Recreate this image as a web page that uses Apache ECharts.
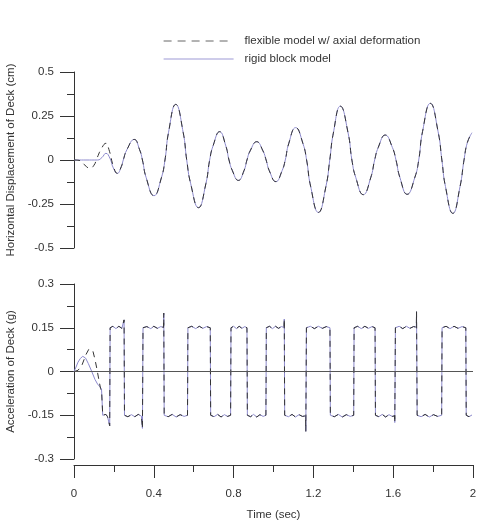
<!DOCTYPE html>
<html>
<head>
<meta charset="utf-8">
<script src="https://cdn.jsdelivr.net/npm/echarts@6/dist/echarts.min.js"></script>
<style>
  html, body { margin: 0; padding: 0; background: #fff; }
  #chart { width: 478px; height: 523px; }
</style>
</head>
<body>
<div id="chart"></div>
<script>
// time (sec), value pairs
const dispRigidStart = [[0, 0], [0.06, 0], [0.118, 0], [0.14, 0.014], [0.16, 0.038], [0.18, 0.01], [0.197, -0.045]];
const dispFlexStart = [[0, 0], [0.03, -0.003], [0.055, -0.03], [0.08, -0.047], [0.1, -0.03], [0.115, 0.01],
    [0.14, 0.07], [0.16, 0.095], [0.175, 0.06], [0.2, -0.045]];
const dispShared = [
    [0.217, -0.076], [0.237, -0.038], [0.247, 0], [0.265, 0.058], [0.302, 0.117], [0.329, 0.058], [0.343, 0],
    [0.362, -0.101], [0.401, -0.203], [0.438, -0.101], [0.456, 0], [0.474, 0.158], [0.51, 0.316], [0.547, 0.158],
    [0.565, 0], [0.585, -0.135], [0.624, -0.271], [0.661, -0.135], [0.68, 0], [0.697, 0.08], [0.73, 0.161],
    [0.761, 0.08], [0.777, 0], [0.793, -0.058], [0.824, -0.116], [0.853, -0.058], [0.867, 0], [0.883, 0.052],
    [0.916, 0.104], [0.947, 0.052], [0.963, 0], [0.979, -0.061], [1.012, -0.123], [1.043, -0.061], [1.059, 0],
    [1.076, 0.092], [1.111, 0.184], [1.148, 0.092], [1.166, 0], [1.186, -0.149], [1.225, -0.298], [1.263, -0.149],
    [1.282, 0], [1.3, 0.153], [1.335, 0.306], [1.374, 0.153], [1.393, 0], [1.412, -0.098], [1.45, -0.197],
    [1.488, -0.098], [1.507, 0], [1.525, 0.071], [1.56, 0.142], [1.596, 0.071], [1.614, 0], [1.633, -0.097],
    [1.67, -0.195], [1.709, -0.097], [1.728, 0], [1.747, 0.161], [1.786, 0.322], [1.825, 0.161], [1.844, 0],
    [1.862, -0.151], [1.899, -0.303], [1.935, -0.151], [1.955, 0], [1.972, 0.1], [1.995, 0.155]];

const accRigidStart = [[0, 0], [0.01, 0.015], [0.02, 0.032], [0.032, 0.045], [0.044, 0.052], [0.058, 0.046],
    [0.072, 0.027], [0.089, 0], [0.105, -0.027], [0.118, -0.043], [0.127, -0.05], [0.133, -0.044], [0.138, -0.06]];
const accFlexStart = [[0, 0], [0.02, 0.004], [0.04, 0.022], [0.06, 0.058], [0.074, 0.076], [0.084, 0.081],
    [0.094, 0.072], [0.105, 0.042], [0.115, 0.008], [0.125, -0.03], [0.133, -0.058], [0.139, -0.076]];
const accShared = [
    [0.144, -0.15], [0.152, -0.154], [0.16, -0.147], [0.168, -0.155], [0.176, -0.149], [0.179, -0.186],
    [0.181, 0.15], [0.195, 0.155], [0.21, 0.147], [0.225, 0.155], [0.24, 0.148], [0.25, 0.152], [0.251, 0.177],
    [0.253, -0.15], [0.27, -0.155], [0.288, -0.148], [0.305, -0.155], [0.322, -0.147], [0.338, -0.153], [0.343, -0.195],
    [0.346, 0.15], [0.365, 0.154], [0.385, 0.147], [0.4, 0.155], [0.418, 0.148], [0.435, 0.154], [0.449, 0.151], [0.45, 0.2],
    [0.452, -0.15], [0.472, -0.155], [0.492, -0.147], [0.512, -0.156], [0.532, -0.148], [0.552, -0.154], [0.569, -0.15],
    [0.571, 0.15], [0.59, 0.155], [0.61, 0.147], [0.628, 0.155], [0.646, 0.148], [0.665, 0.154], [0.683, 0.15],
    [0.685, -0.15], [0.702, -0.155], [0.72, -0.147], [0.737, -0.156], [0.754, -0.148], [0.77, -0.154], [0.785, -0.15],
    [0.787, 0.15], [0.8, 0.155], [0.814, 0.147], [0.828, 0.155], [0.842, 0.148], [0.856, 0.154], [0.867, 0.15],
    [0.869, -0.15], [0.885, -0.155], [0.9, -0.147], [0.916, -0.156], [0.932, -0.148], [0.948, -0.154], [0.962, -0.15],
    [0.964, 0.15], [0.98, 0.155], [0.995, 0.147], [1.01, 0.155], [1.025, 0.148], [1.04, 0.154], [1.053, 0.151], [1.054, 0.18],
    [1.056, -0.15], [1.075, -0.155], [1.093, -0.147], [1.11, -0.156], [1.128, -0.148], [1.145, -0.154], [1.161, -0.152], [1.162, -0.205],
    [1.165, 0.15], [1.185, 0.155], [1.205, 0.147], [1.225, 0.155], [1.245, 0.148], [1.265, 0.154], [1.283, 0.15],
    [1.285, -0.15], [1.305, -0.155], [1.325, -0.147], [1.345, -0.156], [1.365, -0.148], [1.385, -0.154], [1.402, -0.15],
    [1.404, 0.15], [1.422, 0.155], [1.44, 0.147], [1.458, 0.155], [1.476, 0.148], [1.494, 0.154], [1.509, 0.15],
    [1.511, -0.15], [1.528, -0.155], [1.545, -0.147], [1.562, -0.156], [1.579, -0.148], [1.595, -0.154], [1.607, -0.152], [1.608, -0.175],
    [1.611, 0.15], [1.63, 0.155], [1.648, 0.147], [1.666, 0.155], [1.684, 0.148], [1.702, 0.154], [1.716, 0.152], [1.717, 0.205],
    [1.72, -0.15], [1.74, -0.155], [1.76, -0.147], [1.781, -0.156], [1.802, -0.148], [1.823, -0.154], [1.843, -0.15],
    [1.845, 0.15], [1.865, 0.155], [1.885, 0.147], [1.905, 0.155], [1.925, 0.148], [1.945, 0.154], [1.964, 0.15],
    [1.966, -0.15], [1.98, -0.155], [1.995, -0.149]];

const seriesNames = ['flexible model w/ axial deformation', 'rigid block model'];

const font = 'Liberation Sans, Arial, Helvetica, sans-serif';
const fontSize = 11.5;
const ink = '#333';
const rigidColor = '#8c89cc';
const flexColor = '#333';

function yAxisOf(grid, min, max, step, name, gap) {
    return {
        type: 'value', gridIndex: grid, min: min, max: max, interval: step,
        name: name, nameLocation: 'middle', nameGap: gap,
        nameTextStyle: {color: ink, fontSize: fontSize, fontFamily: font},
        axisLine: {show: true, onZero: false, lineStyle: {color: ink}},
        axisTick: {show: true, length: 14, lineStyle: {color: ink}},
        minorTick: {show: true, splitNumber: 2, length: 7, lineStyle: {color: ink}},
        axisLabel: {color: ink, fontSize: fontSize, fontFamily: font, margin: 20},
        splitLine: {show: false}
    };
}

const myChart = echarts.init(document.getElementById('chart'));
const option = {
    animation: false,
    legend: {
        orient: 'vertical', left: 163, top: 35, padding: 0,
        itemWidth: 70, itemHeight: 10, itemGap: 6,
        itemStyle: {opacity: 0},
        textStyle: {color: ink, fontSize: fontSize, fontFamily: font, padding: [0, 0, 0, 6]},
        data: [
            {name: seriesNames[0], lineStyle: {color: '#666', width: 1, type: [8, 6]}},
            {name: seriesNames[1], lineStyle: {color: '#9d9ad6', width: 1.2}}
        ]
    },
    grid: [
        {left: 74, right: 5, top: 72, height: 176, outerBoundsMode: 'none', containLabel: false},
        {left: 74, right: 5, top: 284, height: 175, outerBoundsMode: 'none', containLabel: false}
    ],
    xAxis: [
        {type: 'value', gridIndex: 0, min: 0, max: 2, show: false},
        {
            type: 'value', gridIndex: 1, min: 0, max: 2, interval: 0.4, offset: 6,
            name: 'Time (sec)', nameLocation: 'middle', nameGap: 44,
            nameTextStyle: {color: ink, fontSize: fontSize, fontFamily: font},
            axisLine: {show: true, onZero: false, lineStyle: {color: ink}},
            axisTick: {show: true, length: 13, lineStyle: {color: ink}},
            minorTick: {show: true, splitNumber: 2, length: 7, lineStyle: {color: ink}},
            axisLabel: {color: ink, fontSize: fontSize, fontFamily: font, margin: 23},
            splitLine: {show: false}
        }
    ],
    yAxis: [
        yAxisOf(0, -0.5, 0.5, 0.25, 'Horizontal Displacement of Deck (cm)', 54),
        yAxisOf(1, -0.3, 0.3, 0.15, 'Acceleration of Deck (g)', 56)
    ],
    series: [
        {
            name: seriesNames[1], type: 'line', xAxisIndex: 0, yAxisIndex: 0,
            data: dispRigidStart.concat(dispShared), smooth: 0.5, showSymbol: false, symbol: 'none',
            lineStyle: {color: rigidColor, width: 1}, itemStyle: {color: rigidColor}
        },
        {
            name: seriesNames[0], type: 'line', xAxisIndex: 0, yAxisIndex: 0,
            data: dispFlexStart.concat(dispShared), smooth: 0.5, showSymbol: false, symbol: 'none',
            lineStyle: {color: flexColor, width: 1, type: [6, 5]}, itemStyle: {color: flexColor}
        },
        {
            name: seriesNames[1], type: 'line', xAxisIndex: 1, yAxisIndex: 1,
            data: accRigidStart.concat(accShared), showSymbol: false, symbol: 'none',
            lineStyle: {color: rigidColor, width: 1}, itemStyle: {color: rigidColor},
            markLine: {
                silent: true, symbol: 'none', label: {show: false},
                lineStyle: {color: '#555', width: 1, type: 'solid'},
                data: [{yAxis: 0}]
            }
        },
        {
            name: seriesNames[0], type: 'line', xAxisIndex: 1, yAxisIndex: 1,
            data: accFlexStart.concat(accShared), showSymbol: false, symbol: 'none',
            lineStyle: {color: flexColor, width: 1, type: [6, 5]}, itemStyle: {color: flexColor}
        }
    ]
};
myChart.setOption(option);
</script>
</body>
</html>
